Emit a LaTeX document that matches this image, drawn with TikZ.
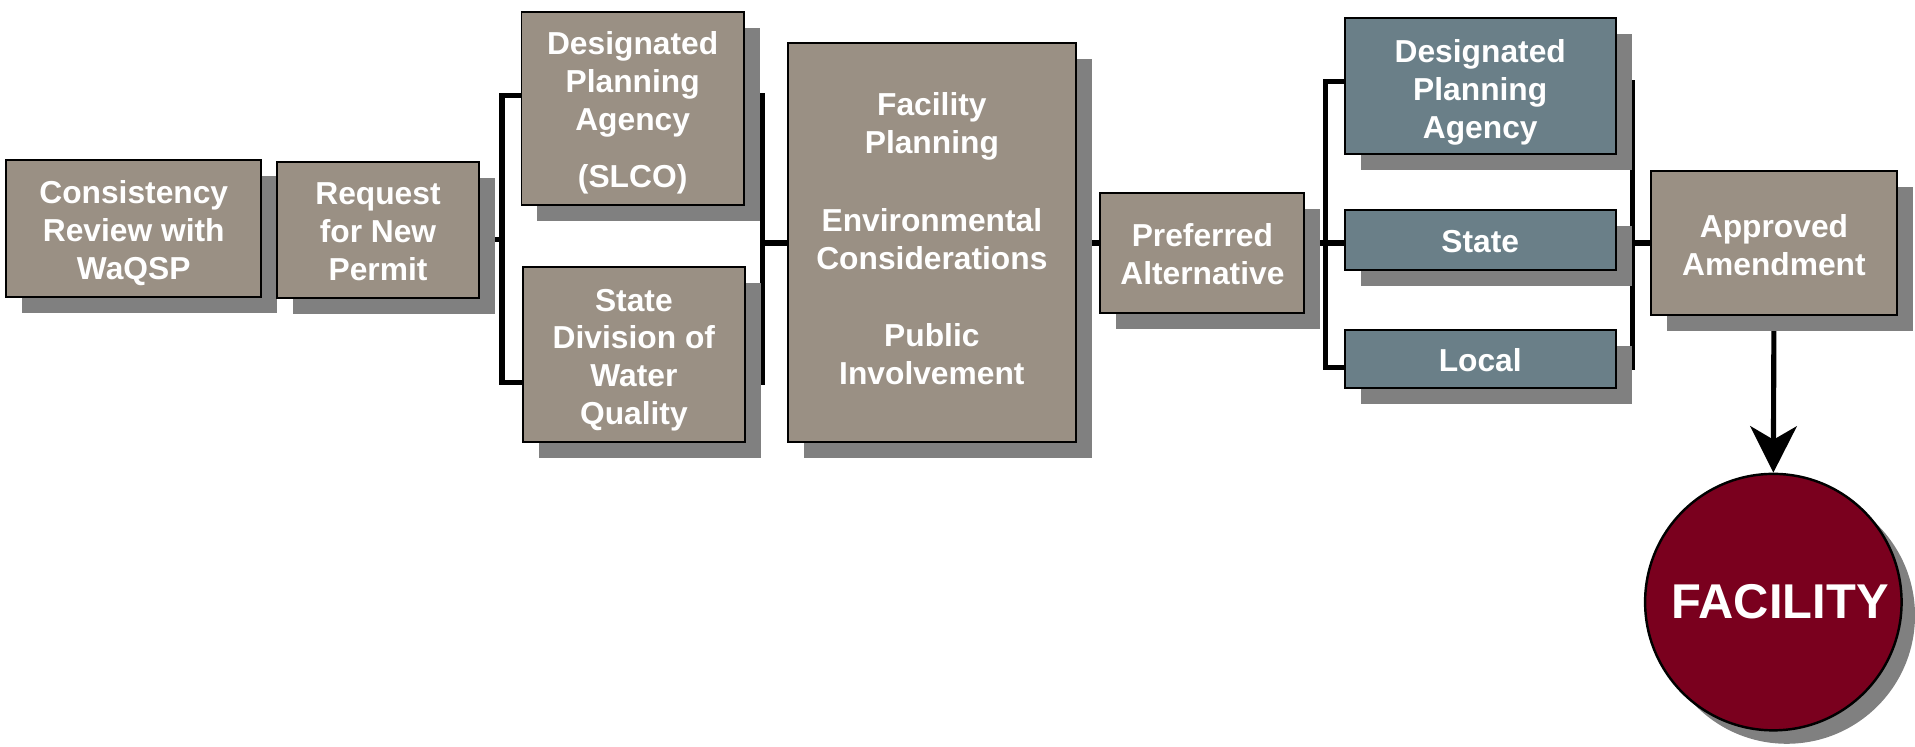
\documentclass[tikz,border=0pt]{standalone}
\usepackage{fontspec}
\setmainfont{Liberation Sans}
\usetikzlibrary{shadows,arrows.meta,backgrounds}
\definecolor{taupe}{RGB}{154,144,132}
\definecolor{slate}{RGB}{106,127,136}
\definecolor{shad}{RGB}{128,128,128}
\definecolor{wine}{RGB}{122,0,30}
\newcommand{\boxtext}[2]{\raisebox{#1}[\height][\depth]{\begin{tabular}{@{}c@{}}#2\end{tabular}}}
\begin{document}
\begin{tikzpicture}[x=1pt,y=-1pt,
  box/.style={draw=black, line width=1.6pt, fill=taupe, inner sep=0pt, align=center, text=white,
    font=\bfseries\fontsize{26}{31}\selectfont,
    drop shadow={shadow xshift=13pt, shadow yshift=-13pt, fill=shad, opacity=1}},
  bluebox/.style={box, fill=slate},
  link/.style={line width=4.2pt, line join=miter},
]
\useasboundingbox (0,0) rectangle (1568,611);

\node[box, minimum width=209pt, minimum height=112pt] (cons) at (109.5,187) {\boxtext{-4.5pt}{Consistency\\Review with\\WaQSP}};
\node[box, minimum width=165pt, minimum height=111pt] (req) at (309.5,188.5) {\boxtext{-4pt}{Request\\for New\\Permit}};
\node[box, minimum width=182pt, minimum height=158pt] (dpa1) at (518,89) {\boxtext{-4pt}{Designated\\Planning\\Agency\\[16pt](SLCO)}};
\node[box, minimum width=182pt, minimum height=143pt] (sdwq) at (519,290.5) {\boxtext{-4.5pt}{State\\Division of\\Water\\Quality}};
\node[box, minimum width=236pt, minimum height=327pt] (fac) at (763,198.5) {\boxtext{0pt}{Facility\\Planning\\[33pt]Environmental\\Considerations\\[32pt]Public\\Involvement}};
\node[box, minimum width=167pt, minimum height=98pt] (pref) at (984.5,207) {\boxtext{-4.5pt}{Preferred\\Alternative}};
\node[bluebox, minimum width=222pt, minimum height=111pt] (dpa2) at (1212,70.5) {\boxtext{-5.5pt}{Designated\\Planning\\Agency}};
\node[bluebox, minimum width=222pt, minimum height=49pt] (st) at (1212,196.5) {\boxtext{-4pt}{State}};
\node[bluebox, minimum width=222pt, minimum height=48pt] (loc) at (1212,294) {\boxtext{-4pt}{Local}};
\node[box, minimum width=201pt, minimum height=118pt] (appr) at (1452.5,199) {\boxtext{-4.5pt}{Approved\\Amendment}};
\node[circle, draw=black, line width=2pt, fill=wine, minimum size=210pt, inner sep=0pt, text=white,
  font=\bfseries\fontsize{40}{46}\selectfont,
  drop shadow={shadow xshift=11pt, shadow yshift=-11pt, fill=shad, opacity=1}] (facil) at (1452,493) {\hspace{11pt}FACILITY};

\coordinate (j1) at (411,196);
\coordinate (b1a) at (411,78);
\coordinate (b1b) at (411,313);
\coordinate (j2) at (624,199);
\coordinate (b2a) at (624,78);
\coordinate (b2b) at (624,313);
\coordinate (j3) at (1085,199);
\coordinate (b3a) at (1085,67);
\coordinate (b3b) at (1085,301);
\coordinate (j4) at (1337,199);
\coordinate (b4a) at (1337,68);
\coordinate (b4b) at (1337,301);

\begin{scope}[on background layer]
\draw[link] (req.east |- j1) -- (j1);
\draw[link] (dpa1.west |- b1a) -- (b1a) -- (b1b) -- (sdwq.west |- b1b);
\draw[link] (dpa1.east |- b2a) -- (b2a) -- (b2b) -- (sdwq.east |- b2b);
\draw[link] (j2) -- (fac.west |- j2);
\draw[link] (fac.east |- j2) -- (pref.west |- j2);
\draw[link] (pref.east |- j3) -- (j3);
\draw[link] (dpa2.west |- b3a) -- (b3a) -- (b3b) -- (loc.west |- b3b);
\draw[link] (j3) -- (st.west |- j3);
\draw[link] (dpa2.east |- b4a) -- (b4a) -- (b4b) -- (loc.east |- b4b);
\draw[link] (st.east |- j4) -- (j4) -- (appr.west |- j4);
\draw[link, -{Stealth[length=38pt, width=38pt, inset=11pt]}] (appr.south) -- (facil.north);
\end{scope}
\end{tikzpicture}
\end{document}
